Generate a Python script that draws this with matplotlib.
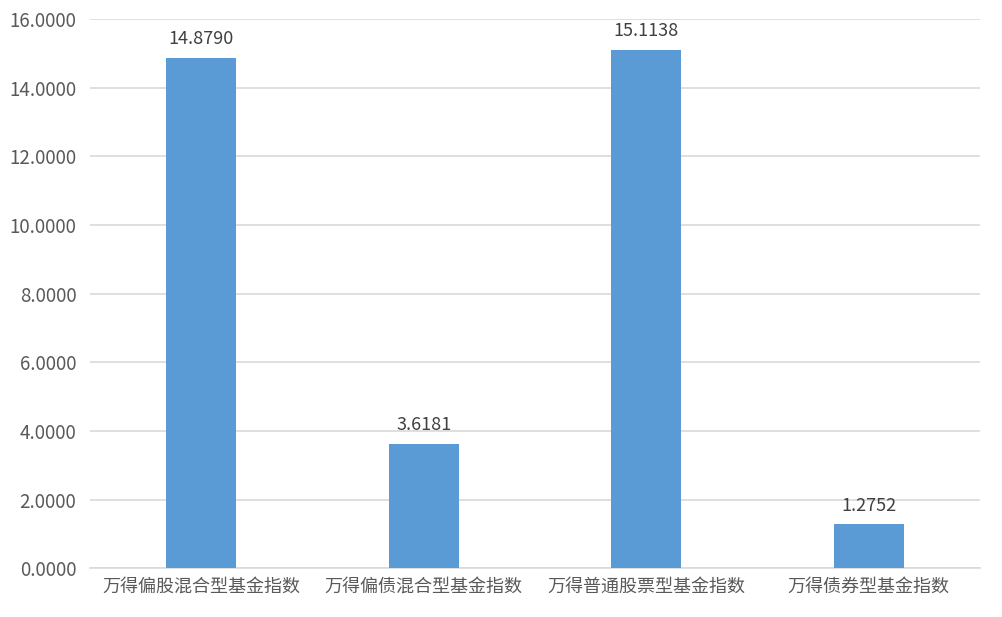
import matplotlib.pyplot as plt

plt.rcParams['font.family'] = ['Noto Sans CJK SC', 'DejaVu Sans']

# data dari gambar
kategori = ['万得偏股混合型基金指数', '万得偏债混合型基金指数', '万得普通股票型基金指数', '万得债券型基金指数']
nilai = [14.8790, 3.6181, 15.1138, 1.2752]
label_nilai = ['14.8790', '3.6181', '15.1138', '1.2752']
yticks = [0, 2, 4, 6, 8, 10, 12, 14, 16]

fig = plt.figure(figsize=(10.02, 6.17), dpi=100)
ax = fig.add_axes([0.09, 0.079, 0.888, 0.89])

x = list(range(len(kategori)))
bars = ax.bar(x, nilai, width=0.315, color='#5B9BD5', zorder=3)

# label di atas bar
for xi, v, lab in zip(x, nilai, label_nilai):
    ax.annotate(lab, (xi, v), xytext=(0, 7), textcoords='offset points',
                ha='center', va='bottom', fontsize=13, color='#404040')

ax.set_xlim(-0.5, 3.5)
ax.set_ylim(0, 16)
ax.set_yticks(yticks)
ax.set_yticklabels([f'{t:.4f}' for t in yticks])
ax.set_xticks(x)
ax.set_xticklabels(kategori, fontsize=13)
ax.tick_params(axis='both', length=0, colors='#595959')
ax.tick_params(axis='y', labelsize=13.5, pad=10)
ax.tick_params(axis='x', pad=7)

ax.grid(axis='y', color='#D9D9D9', linewidth=1.2, zorder=0)
for s in ['top', 'right', 'left']:
    ax.spines[s].set_visible(False)
ax.spines['bottom'].set_color('#D9D9D9')
ax.spines['bottom'].set_linewidth(1.2)

fig.savefig('out.png', dpi=100)
